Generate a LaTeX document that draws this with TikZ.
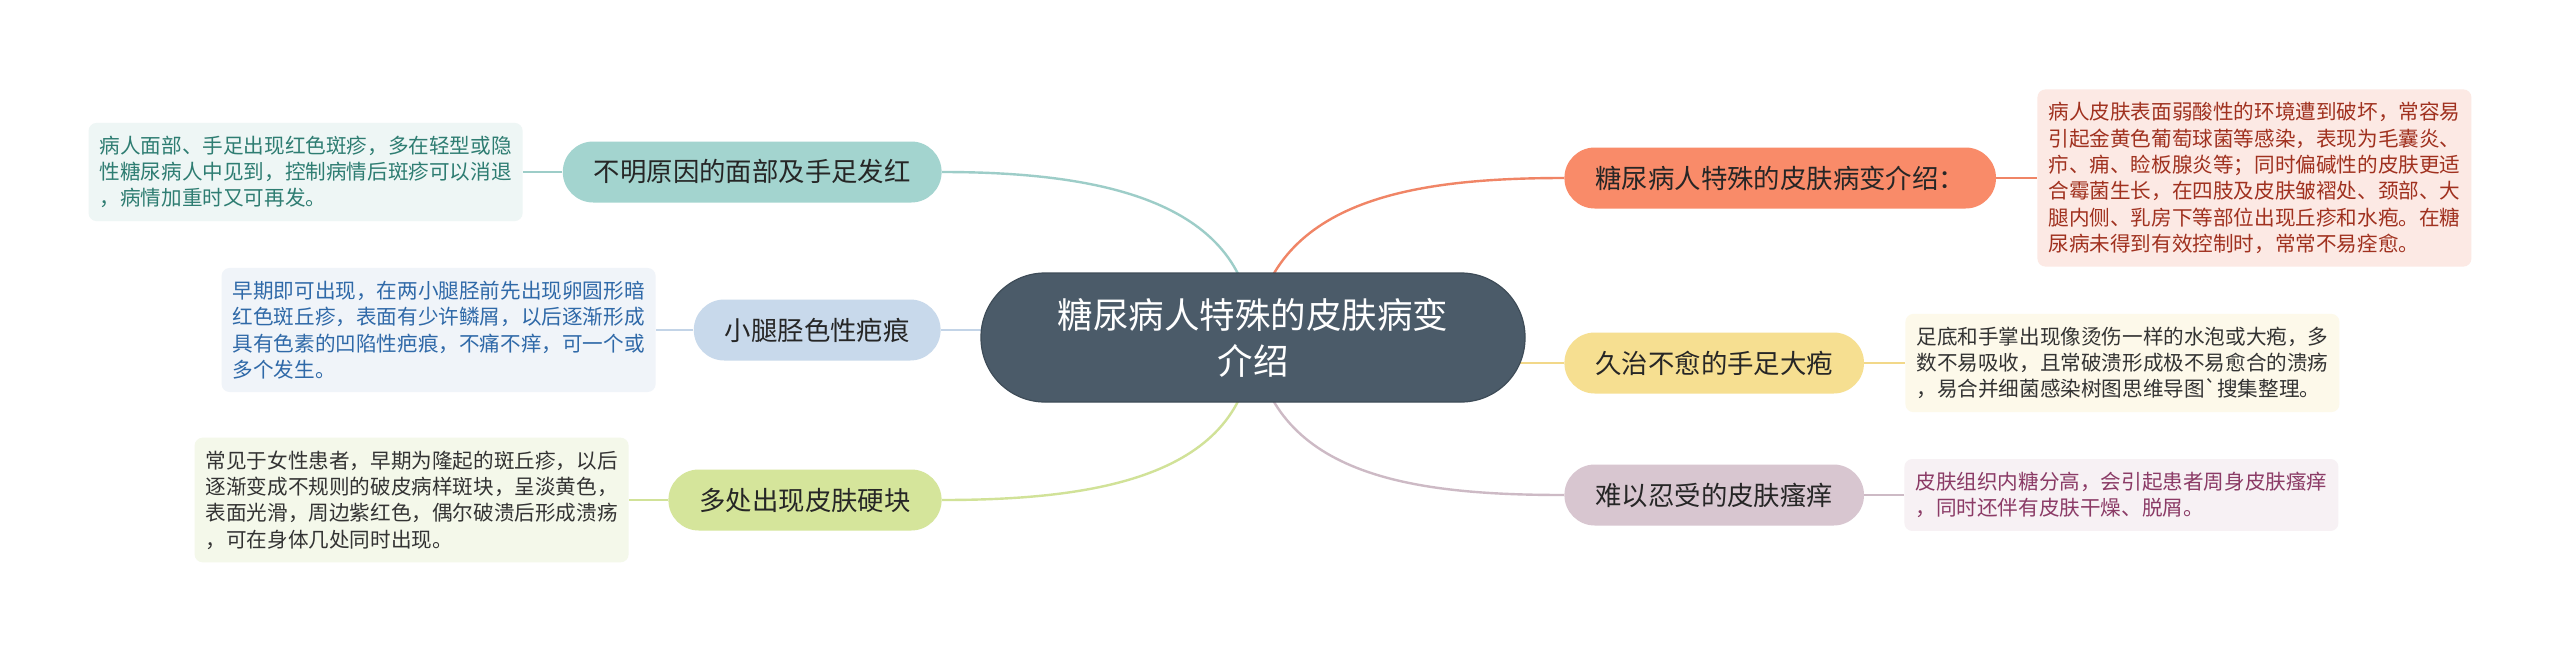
\documentclass[tikz,border=0pt]{standalone}
\usepackage{fontspec}
\usepackage{color}
\usepackage{tikz}
\usetikzlibrary{backgrounds}
\newfontfamily\cjk{Noto Sans CJK SC}

\definecolor{rootfill}{HTML}{4B5B69}
\definecolor{rootdraw}{HTML}{3E4C58}
\definecolor{tealnode}{HTML}{A3D4CF}
\definecolor{tealline}{HTML}{9DCDC8}
\definecolor{tealtext}{HTML}{2E7D72}
\definecolor{tealbox}{HTML}{EEF6F5}
\definecolor{bluenode}{HTML}{C8D9EB}
\definecolor{blueline}{HTML}{C3D4E7}
\definecolor{bluetext}{HTML}{2F69A8}
\definecolor{bluebox}{HTML}{F0F4F9}
\definecolor{greennode}{HTML}{D5E59B}
\definecolor{greenline}{HTML}{D1E298}
\definecolor{greenbox}{HTML}{F4F8EA}
\definecolor{rednode}{HTML}{F98B69}
\definecolor{redline}{HTML}{F08566}
\definecolor{redtext}{HTML}{A0311F}
\definecolor{redbox}{HTML}{FCE9E4}
\definecolor{yellownode}{HTML}{F6DF91}
\definecolor{yellowline}{HTML}{F2D889}
\definecolor{yellowbox}{HTML}{FDF9EA}
\definecolor{mauvenode}{HTML}{D8C6D0}
\definecolor{mauveline}{HTML}{CDBAC5}
\definecolor{mauvetext}{HTML}{8B3B66}
\definecolor{mauvebox}{HTML}{F7F1F4}
\definecolor{darktext}{HTML}{333333}

\begin{document}
\begin{tikzpicture}[x=0.5pt,y=-0.5pt,
   rootnode/.style={fill=rootfill,draw=rootdraw,line width=0.6pt,text=white,
      rounded corners=32pt,minimum width=272pt,minimum height=64.5pt,inner sep=0pt,
      align=center,font=\cjk\fontsize{17.75pt}{23pt}\selectfont},
   topic/.style={rounded corners=15.2pt,minimum height=30.5pt,inner xsep=15.5pt,
      inner ysep=0pt,text=black!85,font=\cjk\fontsize{13.2pt}{16pt}\selectfont},
   note/.style={rounded corners=4pt,minimum width=217pt,inner xsep=5pt,inner ysep=6.5pt,
      align=left,font=\cjk\fontsize{10.3pt}{13.15pt}\selectfont},
   link/.style={line width=1.2pt}]
   
   \path[use as bounding box] (0,0) rectangle (2560,654);
   
   %中心主题
   \node (root) at (1253,337.5) [rootnode]{糖尿病人特殊的皮肤病变\\介绍};
   
   %左侧分支
   \node (l1) at (942,172) [topic,anchor=east,fill=tealnode]{不明原因的面部及手足发红};
   \node (l2) at (941,330) [topic,anchor=east,fill=bluenode]{小腿胫色性疤痕};
   \node (l3) at (942,500) [topic,anchor=east,fill=greennode]{多处出现皮肤硬块};
   
   \node (d1) at (523,172) [note,anchor=east,fill=tealbox,text=tealtext]
      {病人面部、手足出现红色斑疹，多在轻型或隐\\性糖尿病人中见到，控制病情后斑疹可以消退\\，病情加重时又可再发。};
   \node (d2) at (656,330) [note,anchor=east,fill=bluebox,text=bluetext]
      {早期即可出现，在两小腿胫前先出现卵圆形暗\\红色斑丘疹，表面有少许鳞屑，以后逐渐形成\\具有色素的凹陷性疤痕，不痛不痒，可一个或\\多个发生。};
   \node (d3) at (629,500) [note,anchor=east,fill=greenbox,text=darktext]
      {常见于女性患者，早期为隆起的斑丘疹，以后\\逐渐变成不规则的破皮病样斑块，呈淡黄色，\\表面光滑，周边紫红色，偶尔破溃后形成溃疡\\，可在身体几处同时出现。};
   
   %右侧分支
   \node (r1) at (1564,178) [topic,anchor=west,fill=rednode]{糖尿病人特殊的皮肤病变介绍：};
   \node (r2) at (1564,363) [topic,anchor=west,fill=yellownode]{久治不愈的手足大疱};
   \node (r3) at (1564,495) [topic,anchor=west,fill=mauvenode]{难以忍受的皮肤瘙痒};
   
   \node (dr1) at (2037,178) [note,anchor=west,fill=redbox,text=redtext]
      {病人皮肤表面弱酸性的环境遭到破坏，常容易\\引起金黄色葡萄球菌等感染，表现为毛囊炎、\\疖、痈、睑板腺炎等；同时偏碱性的皮肤更适\\合霉菌生长，在四肢及皮肤皱褶处、颈部、大\\腿内侧、乳房下等部位出现丘疹和水疱。在糖\\尿病未得到有效控制时，常常不易痊愈。};
   \node (dr2) at (1905,363) [note,anchor=west,fill=yellowbox,text=darktext]
      {足底和手掌出现像烫伤一样的水泡或大疱，多\\数不易吸收，且常破溃形成极不易愈合的溃疡\\，易合并细菌感染树图思维导图\textasciigrave 搜集整理。};
   \node (dr3) at (1904,495) [note,anchor=west,fill=mauvebox,text=mauvetext]
      {皮肤组织内糖分高，会引起患者周身皮肤瘙痒\\，同时还伴有皮肤干燥、脱屑。};
   
   \begin{scope}[on background layer]
      \fill[white] (0,0) rectangle (2560,654);
      %连线
      \draw[link,tealline] (root.center) .. controls +(-3,-137) and +(158,0) .. (l1.east);
      \draw[link,blueline] (l2.east) -- (l2.east -| root.center);
      \draw[link,greenline] (root.center) .. controls +(-3,138) and +(158,0) .. (l3.east);
      \draw[link,redline] (root.center) .. controls +(17,-137) and +(-154,0) .. (r1.west);
      \draw[link,yellowline] (r2.west) -- (r2.west -| root.center);
      \draw[link,mauveline] (root.center) .. controls +(17,138) and +(-154,0) .. (r3.west);
      
      \foreach \a/\b/\c in {l1/d1/tealline,l2/d2/blueline,l3/d3/greenline}
         \draw[link,\c] (\a.west) -- (\b.east);
      \foreach \a/\b/\c in {r1/dr1/redline,r2/dr2/yellowline,r3/dr3/mauveline}
         \draw[link,\c] (\a.east) -- (\b.west);
   \end{scope}
   
\end{tikzpicture}
\end{document}
